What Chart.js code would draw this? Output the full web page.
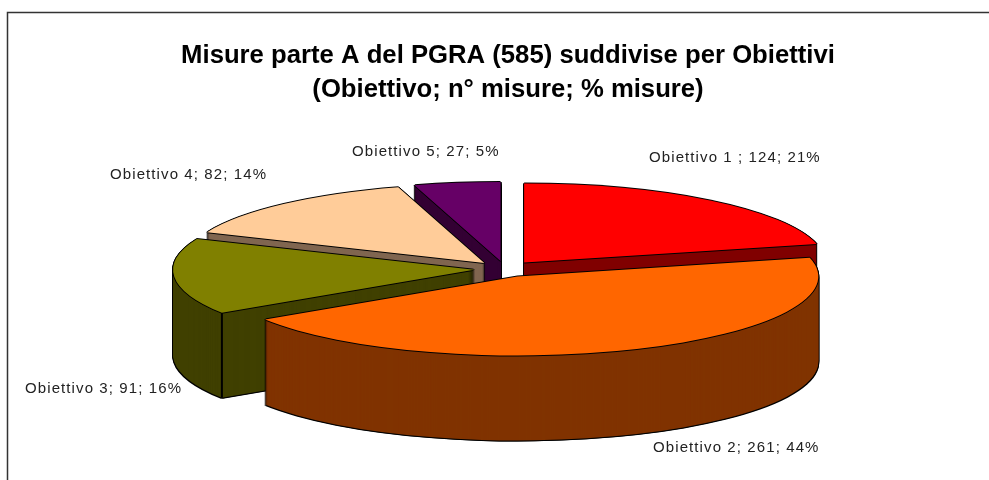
<!DOCTYPE html>
<html><head><meta charset="utf-8">
<style>html,body{margin:0;padding:0;background:#fff;overflow:hidden}#w{width:989px;height:480px}</style>
<script src="https://cdn.jsdelivr.net/npm/chart.js@4"></script>
</head><body><div id="w"><canvas id="c"></canvas></div>
<script>
const categories = ["Obiettivo 1", "Obiettivo 2", "Obiettivo 3", "Obiettivo 4", "Obiettivo 5"];
const values = [124, 261, 91, 82, 27];
const pointLabels = ["Obiettivo 1 ; 124; 21%", "Obiettivo 2; 261; 44%", "Obiettivo 3; 91; 16%", "Obiettivo 4; 82; 14%", "Obiettivo 5; 27; 5%"];
const titleLines = ["Misure parte A del PGRA (585) suddivise per Obiettivi", "(Obiettivo; n\u00b0 misure; % misure)"];
const topColors = ["#FF0000", "#FF6600", "#808000", "#FFCC99", "#660066"];
const wallColors = ["#800000", "#803300", "#404000", "#806650", "#330033"];

const labelAnchors = [[649,158],[653,448],[25,389],[110,175],[352,152]];
const paintOrder = [4,3,0,2,1];
const view = {cx:505, cy:269, rx:301, ry:79, depth:85, explode:31};

const pie3d = {
  id:'pie3d',
  beforeDatasetsDraw(chart){
    const ctx = chart.ctx;
    const arcs = chart.getDatasetMeta(0).data;
    const centre = a => {
      const mid = (a.startAngle+a.endAngle)/2;
      return [view.cx + view.explode*Math.cos(mid), view.cy + view.explode*(view.ry/view.rx)*Math.sin(mid)];
    };
    const paint = (a, color, dx, dy) => {
      const saved = a.options;
      a.options = {offset:0, spacing:0, circular:true, borderWidth:0, borderRadius:0,
                   borderColor:color, backgroundColor:color, borderAlign:'center', borderJoinStyle:'round'};
      const [x0,y0] = centre(a);
      ctx.save();
      ctx.translate(x0+dx, y0+dy);
      ctx.scale(view.rx/a.outerRadius, view.ry/a.outerRadius);
      ctx.translate(-a.x, -a.y);
      a.draw(ctx);
      ctx.restore();
      a.options = saved;
    };
    ctx.save();
    ctx.strokeStyle = '#333'; ctx.lineWidth = 1.5;
    ctx.strokeRect(7.5,12.5,1100,1000);
    ctx.restore();
    for (const i of paintOrder){
      const a = arcs[i];
      for (let d=view.depth+1; d>=0; d--){
        paint(a,'#000',-1,d); paint(a,'#000',1,d);
      }
      for (let d=view.depth; d>=1; d--) paint(a,wallColors[i],0,d);
      if (Math.cos(a.startAngle) < 0 && Math.sin(a.startAngle) > 0){
        const [x0,y0] = centre(a);
        const px = x0 + view.rx*Math.cos(a.startAngle);
        const py = y0 + view.ry*Math.sin(a.startAngle);
        ctx.save(); ctx.strokeStyle='#000'; ctx.lineWidth=2;
        ctx.beginPath(); ctx.moveTo(px,py); ctx.lineTo(px,py+view.depth); ctx.stroke(); ctx.restore();
      }
      paint(a,'#000',-1,0); paint(a,'#000',1,0); paint(a,'#000',0,-1); paint(a,'#000',0,1);
      paint(a,topColors[i],0,0);
    }
    return false;
  },
  afterDraw(chart){
    const ctx = chart.ctx;
    ctx.save();
    ctx.font = '15px "Liberation Sans"';
    ctx.letterSpacing = '1.1px';
    ctx.fillStyle = '#222';
    ctx.textAlign = 'left'; ctx.textBaseline = 'middle';
    pointLabels.forEach((t,i)=>ctx.fillText(t,labelAnchors[i][0],labelAnchors[i][1]));
    ctx.restore();
  }
};

new Chart(document.getElementById('c'), {
  type:'pie',
  data:{labels:categories, datasets:[{data:values, backgroundColor:topColors, borderWidth:0}]},
  options:{
    responsive:true, maintainAspectRatio:false, animation:false,
    layout:{padding:{left:27}},
    plugins:{
      legend:{display:false}, tooltip:{enabled:false},
      title:{display:true, text:titleLines, color:'#000',
             font:{family:'"Liberation Sans"', size:25.7, weight:'bold', lineHeight:'34px'},
             padding:{top:39,bottom:0}}
    }
  },
  plugins:[pie3d]
});
</script></body></html>
